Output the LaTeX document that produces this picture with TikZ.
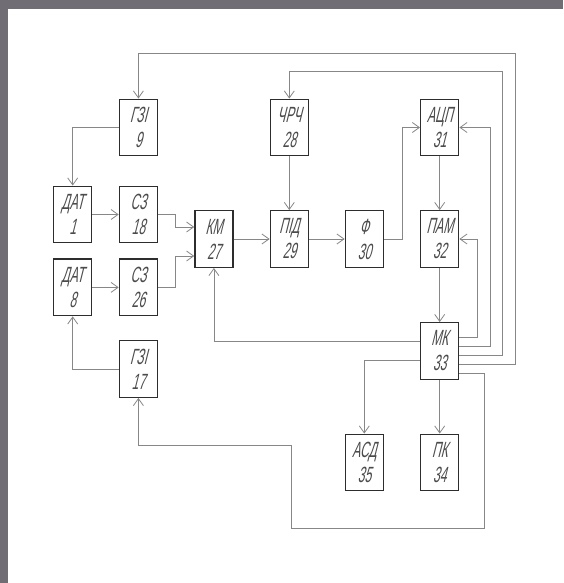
\documentclass[tikz,border=0pt]{standalone}
\usepackage{fontspec}
\newfontfamily\gostfont[FakeStretch=0.55,FakeSlant=0.25]{Liberation Sans}
\usetikzlibrary{arrows.meta, positioning, calc}
\definecolor{framegray}{RGB}{112,110,116}
\definecolor{wiregray}{RGB}{135,135,135}
\definecolor{boxedge}{RGB}{45,45,45}
\definecolor{inkgray}{RGB}{75,75,75}
\tikzset{
  block/.style = {draw=boxedge, rectangle, line width=1.4pt, align=center,
                  fill=white, text=inkgray,
                  font=\gostfont\fontsize{22}{25}\selectfont,
                  minimum height=56.5pt, minimum width=38pt, inner sep=0pt},
  arr/.style   = {-{Straight Barb[length=7pt, width=10pt]}, draw=wiregray,
                  line width=0.8pt},
  wire/.style  = {draw=wiregray, line width=0.8pt}
}

\begin{document}
\begin{tikzpicture}[x=1pt, y=-1pt]

  % ── Frame ────────────────────────────────────────────────────────────────
  \useasboundingbox (0,0) rectangle (563,583);
  \fill[framegray] (0,0) rectangle (563,583);
  \fill[white] (8,9) rectangle (563,583);

  % ── Sensors and shapers ──────────────────────────────────────────────────
  \node[block] (Gzi9)  at (138.4,127.5) {ГЗІ\\9};
  \node[block] (Dat1)  at (72.7,214.5)  {ДАТ\\1};
  \node[block] (Sz18)  at (138.4,214.5) {СЗ\\18};
  \node[block] (Dat8)  at (72.7,287.4)  {ДАТ\\8};
  \node[block] (Sz26)  at (138.4,287.4) {СЗ\\26};
  \node[block] (Gzi17) at (138.4,369)   {ГЗІ\\17};

  % ── Signal chain ─────────────────────────────────────────────────────────
  \node[block] (Km)    at (213.9,239)   {КМ\\27};
  \node[block] (Pid)   at (289.3,239)   {ПІД\\29};
  \node[block] (Flt)   at (364.3,239)   {Ф\\30};
  \node[block] (Chrch) at (289.3,127.5) {ЧРЧ\\28};
  \node[block] (Adc)   at (439.7,127.5) {АЦП\\31};
  \node[block] (Pam)   at (439.7,239)   {ПАМ\\32};

  % ── Controller and outputs ───────────────────────────────────────────────
  \node[block] (Mk)    at (439.7,351)   {МК\\33};
  \node[block] (Asd)   at (364.3,462.5) {АСД\\35};
  \node[block] (Pk)    at (439.7,462.5) {ПК\\34};

  % bend points of the long feedback lines
  \coordinate (TopA)  at (515.3,53.2);
  \coordinate (TopB)  at (502,71.7);
  \coordinate (LoopR) at (484.7,528.6);
  \coordinate (LoopL) at (291.6,445.4);

  % ── Connections ──────────────────────────────────────────────────────────

  % generators → sensors
  \draw[arr] (Gzi9.west)  -| (Dat1.north);
  \draw[arr] (Gzi17.west) -| (Dat8.south);
  \draw[arr] (Dat1) -- (Sz18);
  \draw[arr] (Dat8) -- (Sz26);

  % shapers → switch
  \draw[arr] (Sz18.east) -- ++(17.6,0) |- ([yshift=12pt]Km.west);
  \draw[arr] (Sz26.east) -- ++(17.6,0) |- ([yshift=-17pt]Km.west);

  % switch → detector → filter → ADC → memory → MK
  \draw[arr] (Km)    -- (Pid);
  \draw[arr] (Chrch) -- (Pid);
  \draw[arr] (Pid)   -- (Flt);
  \draw[arr] (Flt.east) -- ++(18.3,0) |- (Adc.west);
  \draw[arr] (Adc) -- (Pam);
  \draw[arr] (Pam) -- (Mk);

  % MK outputs
  \draw[arr] ([yshift=9.7pt]Mk.west)  -| (Km.south);
  \draw[arr] ([yshift=-8.9pt]Mk.west) -| (Asd.north);
  \draw[arr] (Mk) -- (Pk);
  \draw[arr] ([yshift=14pt]Mk.east) -- ++(18.1,0) |- (Pam.east);
  \draw[arr] ([yshift=5pt]Mk.east)  -- ++(30.7,0) |- (Adc.east);
  \draw[arr] ([yshift=-4pt]Mk.east)  -| (TopB) -| (Chrch.north);
  \draw[arr] ([yshift=-13pt]Mk.east) -| (TopA) -| (Gzi9.north);
  \draw[arr] ([yshift=-22pt]Mk.east) -| (LoopR) -| (LoopL) -| (Gzi17.south);

\end{tikzpicture}
\end{document}
